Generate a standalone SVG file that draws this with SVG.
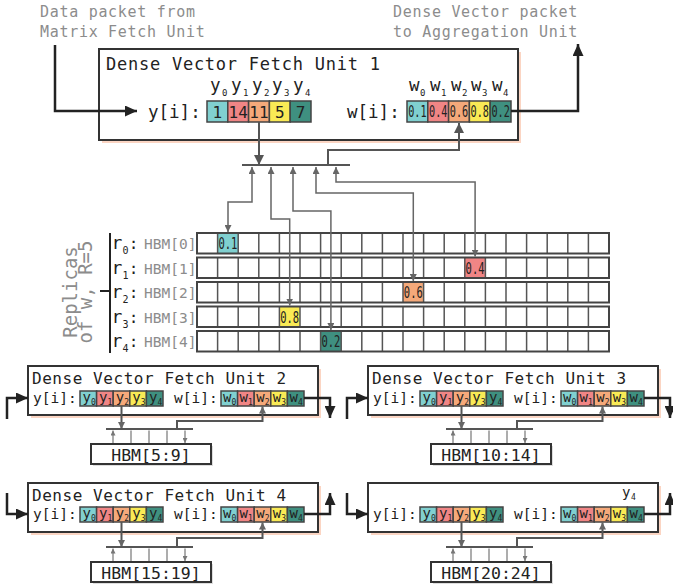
<svg xmlns="http://www.w3.org/2000/svg" width="673" height="587" viewBox="0 0 673 587">
<style>
text{font-family:"DejaVu Sans Mono","Liberation Mono",monospace;fill:#222}
.grey{fill:#8c8c8c}
.lbl{font-size:15px;letter-spacing:0.7px}
.t1{font-size:17px;letter-spacing:0.75px}
.t2{font-size:16px;letter-spacing:0.55px}
.row1{font-size:17.5px}
.row2{font-size:14.5px}
.box{fill:#fff;stroke:#333;stroke-width:2}
.shadow{fill:#fbd5c3}
.hshadow{fill:#ddd}
.cell{stroke:#444;stroke-width:1.5}
.c0{fill:#80d0d0}.c1{fill:#f08585}.c2{fill:#f5a97a}.c3{fill:#f9ea55}.c4{fill:#3f9080}
.bold{fill:none;stroke:#222;stroke-width:2.5}
.conn{fill:none;stroke:#555;stroke-width:2}
.thin{fill:none;stroke:#666;stroke-width:1.5}
.tiny{fill:none;stroke:#777;stroke-width:1.2}
.grid{fill:none;stroke:#555;stroke-width:1.5}
.gridrow{fill:none;stroke:#444;stroke-width:2}
.val{font-size:16px}
.wv{font-size:15px;text-anchor:middle}
.sub{font-size:9px}
.cy{font-size:14px}
.cs{font-size:8px}
.hbm{font-size:16.5px}
.rr{font-size:18px}
.rs{font-size:10px}
.rc{font-size:16px}
.rh{font-size:14.5px}
</style>
<defs>
<marker id="ab" markerUnits="userSpaceOnUse" markerWidth="12" markerHeight="11" refX="12" refY="5.5" orient="auto"><path d="M0,0 L12,5.5 L0,11 z" fill="#222"/></marker>
<marker id="am" markerUnits="userSpaceOnUse" markerWidth="10" markerHeight="10" refX="10" refY="5" orient="auto"><path d="M0,0 L10,5 L0,10 z" fill="#555"/></marker>
<marker id="as" markerUnits="userSpaceOnUse" markerWidth="7" markerHeight="7" refX="7" refY="3.5" orient="auto-start-reverse"><path d="M0,0 L7,3.5 L0,7 z" fill="#666"/></marker>
<marker id="at" markerUnits="userSpaceOnUse" markerWidth="5" markerHeight="5" refX="5" refY="2.5" orient="auto-start-reverse"><path d="M0,0 L5,2.5 L0,5 z" fill="#777"/></marker>
</defs>

<!-- top labels -->
<g id="label-in">
<text class="lbl grey" x="40" y="17">Data packet from</text>
<text class="lbl grey" x="40" y="37">Matrix Fetch Unit</text>
</g>
<g id="label-out">
<text class="lbl grey" x="393" y="17">Dense Vector packet</text>
<text class="lbl grey" x="393" y="37">to Aggregation Unit</text>
</g>

<!-- Unit 1 -->
<g id="unit1">
<rect class="shadow" x="102" y="52" width="419" height="91"/>
<rect class="box" x="99" y="49" width="419" height="91"/>
<text class="t1" x="106" y="70">Dense Vector Fetch Unit 1</text>
<text class="row1" x="210" y="91">y</text><text class="sub" x="222" y="96">0</text>
<text class="row1" x="231" y="91">y</text><text class="sub" x="243" y="96">1</text>
<text class="row1" x="252" y="91">y</text><text class="sub" x="264" y="96">2</text>
<text class="row1" x="272" y="91">y</text><text class="sub" x="284" y="96">3</text>
<text class="row1" x="293" y="91">y</text><text class="sub" x="305" y="96">4</text>
<text class="row1" x="148" y="118">y[i]:</text>
<rect class="cell c0" x="207" y="101" width="20.8" height="21"/>
<rect class="cell c1" x="227.8" y="101" width="20.8" height="21"/>
<rect class="cell c2" x="248.6" y="101" width="20.8" height="21"/>
<rect class="cell c3" x="269.4" y="101" width="20.8" height="21"/>
<rect class="cell c4" x="290.2" y="101" width="20.8" height="21"/>
<text class="val" x="217.4" y="118" text-anchor="middle">1</text>
<text class="val" x="238.2" y="118" text-anchor="middle">14</text>
<text class="val" x="259" y="118" text-anchor="middle">11</text>
<text class="val" x="279.8" y="118" text-anchor="middle">5</text>
<text class="val" x="300.6" y="118" text-anchor="middle">7</text>
<text class="row1" x="409" y="91" font-size="15">w</text><text class="sub" x="420" y="96">0</text>
<text class="row1" x="430" y="91" font-size="15">w</text><text class="sub" x="441" y="96">1</text>
<text class="row1" x="451" y="91" font-size="15">w</text><text class="sub" x="462" y="96">2</text>
<text class="row1" x="471" y="91" font-size="15">w</text><text class="sub" x="482" y="96">3</text>
<text class="row1" x="492" y="91" font-size="15">w</text><text class="sub" x="503" y="96">4</text>
<text class="row1" x="347" y="118">w[i]:</text>
<rect class="cell c0" x="407" y="101" width="20.8" height="21"/>
<rect class="cell c1" x="427.8" y="101" width="20.8" height="21"/>
<rect class="cell c2" x="448.6" y="101" width="20.8" height="21"/>
<rect class="cell c3" x="469.4" y="101" width="20.8" height="21"/>
<rect class="cell c4" x="490.2" y="101" width="20.8" height="21"/>
<text class="wv" transform="translate(417.4,117) scale(0.68,1)">0.1</text>
<text class="wv" transform="translate(438.2,117) scale(0.68,1)">0.4</text>
<text class="wv" transform="translate(459,117) scale(0.68,1)">0.6</text>
<text class="wv" transform="translate(479.8,117) scale(0.68,1)">0.8</text>
<text class="wv" transform="translate(500.6,117) scale(0.68,1)">0.2</text>
</g>

<!-- HBM grid -->
<g id="hbm-grid">
<rect x="197" y="233" width="412" height="20.5" fill="#fff"/>
<rect x="197" y="257.5" width="412" height="20.5" fill="#fff"/>
<rect x="197" y="282" width="412" height="20.5" fill="#fff"/>
<rect x="197" y="306.5" width="412" height="20.5" fill="#fff"/>
<rect x="197" y="331" width="412" height="20.5" fill="#fff"/>
<rect class="c0" x="217.6" y="233" width="20.6" height="20.5"/>
<rect class="c1" x="464.8" y="257.5" width="20.6" height="20.5"/>
<rect class="c2" x="403" y="282" width="20.6" height="20.5"/>
<rect class="c3" x="279.4" y="306.5" width="20.6" height="20.5"/>
<rect class="c4" x="320.6" y="331" width="20.6" height="20.5"/>
<path class="grid" stroke-dasharray="20.5 4" d="M217.6,233V351.5M238.2,233V351.5M258.8,233V351.5M279.4,233V351.5M300,233V351.5M320.6,233V351.5M341.2,233V351.5M361.8,233V351.5M382.4,233V351.5M403,233V351.5M423.6,233V351.5M444.2,233V351.5M464.8,233V351.5M485.4,233V351.5M506,233V351.5M526.6,233V351.5M547.2,233V351.5M567.8,233V351.5M588.4,233V351.5"/>
<rect class="gridrow" x="197" y="233" width="412" height="20.5"/>
<rect class="gridrow" x="197" y="257.5" width="412" height="20.5"/>
<rect class="gridrow" x="197" y="282" width="412" height="20.5"/>
<rect class="gridrow" x="197" y="306.5" width="412" height="20.5"/>
<rect class="gridrow" x="197" y="331" width="412" height="20.5"/>
<text class="wv" transform="translate(227.9,249) scale(0.7,1)">0.1</text>
<text class="wv" transform="translate(475.1,273.5) scale(0.7,1)">0.4</text>
<text class="wv" transform="translate(413.3,298) scale(0.7,1)">0.6</text>
<text class="wv" transform="translate(289.7,322.5) scale(0.7,1)">0.8</text>
<text class="wv" transform="translate(330.9,347) scale(0.7,1)">0.2</text>
</g>

<!-- replica labels -->
<g id="replica-labels">
<text class="rr" x="111.5" y="249">r</text><text class="rs" x="122.5" y="254">0</text><text class="rc" x="128.7" y="249">:</text><text class="grey rh" x="144" y="249">HBM[0]</text>
<text class="rr" x="111.5" y="273.5">r</text><text class="rs" x="122.5" y="278.5">1</text><text class="rc" x="128.7" y="273.5">:</text><text class="grey rh" x="144" y="273.5">HBM[1]</text>
<text class="rr" x="111.5" y="298">r</text><text class="rs" x="122.5" y="303">2</text><text class="rc" x="128.7" y="298">:</text><text class="grey rh" x="144" y="298">HBM[2]</text>
<text class="rr" x="111.5" y="322.5">r</text><text class="rs" x="122.5" y="327.5">3</text><text class="rc" x="128.7" y="322.5">:</text><text class="grey rh" x="144" y="322.5">HBM[3]</text>
<text class="rr" x="111.5" y="347">r</text><text class="rs" x="122.5" y="352">4</text><text class="rc" x="128.7" y="347">:</text><text class="grey rh" x="144" y="347">HBM[4]</text>
<path d="M110,233V353M100,291H110" fill="none" stroke="#222" stroke-width="2"/>
<text class="grey" font-size="19" text-anchor="middle" transform="translate(77,292) rotate(-90)">Replicas</text>
<text class="grey" font-size="19" text-anchor="middle" transform="translate(92,292) rotate(-90)">of w, R=5</text>
</g>

<!-- Unit 2 -->
<g id="unit2" transform="translate(28,366)">
<rect class="shadow" x="3" y="3" width="290" height="49"/>
<rect class="box" x="0" y="0" width="290" height="49"/>
<text class="t2" x="4" y="17.5">Dense Vector Fetch Unit 2</text>
<text class="row2" x="5" y="37">y[i]:</text>
<rect class="cell c0" x="52" y="25" width="16.6" height="15"/><rect class="cell c1" x="68.6" y="25" width="16.6" height="15"/><rect class="cell c2" x="85.2" y="25" width="16.6" height="15"/><rect class="cell c3" x="101.8" y="25" width="16.6" height="15"/><rect class="cell c4" x="118.4" y="25" width="16.6" height="15"/>
<text class="cy" x="54.5" y="36">y</text><text class="cs" x="63" y="39">0</text>
<text class="cy" x="71.1" y="36">y</text><text class="cs" x="79.6" y="39">1</text>
<text class="cy" x="87.7" y="36">y</text><text class="cs" x="96.2" y="39">2</text>
<text class="cy" x="104.3" y="36">y</text><text class="cs" x="112.8" y="39">3</text>
<text class="cy" x="120.9" y="36">y</text><text class="cs" x="129.4" y="39">4</text>
<text class="row2" x="146" y="37">w[i]:</text>
<rect class="cell c0" x="193" y="25" width="16.6" height="15"/><rect class="cell c1" x="209.6" y="25" width="16.6" height="15"/><rect class="cell c2" x="226.2" y="25" width="16.6" height="15"/><rect class="cell c3" x="242.8" y="25" width="16.6" height="15"/><rect class="cell c4" x="259.4" y="25" width="16.6" height="15"/>
<text class="cy" x="195" y="36" font-size="12">w</text><text class="cs" x="203.5" y="39">0</text>
<text class="cy" x="211.6" y="36" font-size="12">w</text><text class="cs" x="220.1" y="39">1</text>
<text class="cy" x="228.2" y="36" font-size="12">w</text><text class="cs" x="236.7" y="39">2</text>
<text class="cy" x="244.8" y="36" font-size="12">w</text><text class="cs" x="253.3" y="39">3</text>
<text class="cy" x="261.4" y="36" font-size="12">w</text><text class="cs" x="269.9" y="39">4</text>
<rect class="hshadow" x="65" y="80" width="120" height="20"/>
<rect class="box" x="63" y="78" width="120" height="20" stroke-width="1.5"/>
<text class="hbm" x="123" y="95" text-anchor="middle">HBM[5:9]</text>
</g>

<!-- Unit 3 -->
<g id="unit3" transform="translate(368,366)">
<rect class="shadow" x="3" y="3" width="290" height="49"/>
<rect class="box" x="0" y="0" width="290" height="49"/>
<text class="t2" x="4" y="17.5">Dense Vector Fetch Unit 3</text>
<text class="row2" x="5" y="37">y[i]:</text>
<rect class="cell c0" x="52" y="25" width="16.6" height="15"/><rect class="cell c1" x="68.6" y="25" width="16.6" height="15"/><rect class="cell c2" x="85.2" y="25" width="16.6" height="15"/><rect class="cell c3" x="101.8" y="25" width="16.6" height="15"/><rect class="cell c4" x="118.4" y="25" width="16.6" height="15"/>
<text class="cy" x="54.5" y="36">y</text><text class="cs" x="63" y="39">0</text>
<text class="cy" x="71.1" y="36">y</text><text class="cs" x="79.6" y="39">1</text>
<text class="cy" x="87.7" y="36">y</text><text class="cs" x="96.2" y="39">2</text>
<text class="cy" x="104.3" y="36">y</text><text class="cs" x="112.8" y="39">3</text>
<text class="cy" x="120.9" y="36">y</text><text class="cs" x="129.4" y="39">4</text>
<text class="row2" x="146" y="37">w[i]:</text>
<rect class="cell c0" x="193" y="25" width="16.6" height="15"/><rect class="cell c1" x="209.6" y="25" width="16.6" height="15"/><rect class="cell c2" x="226.2" y="25" width="16.6" height="15"/><rect class="cell c3" x="242.8" y="25" width="16.6" height="15"/><rect class="cell c4" x="259.4" y="25" width="16.6" height="15"/>
<text class="cy" x="195" y="36" font-size="12">w</text><text class="cs" x="203.5" y="39">0</text>
<text class="cy" x="211.6" y="36" font-size="12">w</text><text class="cs" x="220.1" y="39">1</text>
<text class="cy" x="228.2" y="36" font-size="12">w</text><text class="cs" x="236.7" y="39">2</text>
<text class="cy" x="244.8" y="36" font-size="12">w</text><text class="cs" x="253.3" y="39">3</text>
<text class="cy" x="261.4" y="36" font-size="12">w</text><text class="cs" x="269.9" y="39">4</text>
<rect class="hshadow" x="65" y="80" width="120" height="20"/>
<rect class="box" x="63" y="78" width="120" height="20" stroke-width="1.5"/>
<text class="hbm" x="123" y="95" text-anchor="middle">HBM[10:14]</text>
</g>

<!-- Unit 4 -->
<g id="unit4" transform="translate(28,483)">
<rect class="shadow" x="3" y="3" width="290" height="49"/>
<rect class="box" x="0" y="0" width="290" height="49"/>
<text class="t2" x="4" y="18">Dense Vector Fetch Unit 4</text>
<text class="row2" x="5" y="36">y[i]:</text>
<rect class="cell c0" x="52" y="24" width="16.6" height="15"/><rect class="cell c1" x="68.6" y="24" width="16.6" height="15"/><rect class="cell c2" x="85.2" y="24" width="16.6" height="15"/><rect class="cell c3" x="101.8" y="24" width="16.6" height="15"/><rect class="cell c4" x="118.4" y="24" width="16.6" height="15"/>
<text class="cy" x="54.5" y="35">y</text><text class="cs" x="63" y="38">0</text>
<text class="cy" x="71.1" y="35">y</text><text class="cs" x="79.6" y="38">1</text>
<text class="cy" x="87.7" y="35">y</text><text class="cs" x="96.2" y="38">2</text>
<text class="cy" x="104.3" y="35">y</text><text class="cs" x="112.8" y="38">3</text>
<text class="cy" x="120.9" y="35">y</text><text class="cs" x="129.4" y="38">4</text>
<text class="row2" x="146" y="36">w[i]:</text>
<rect class="cell c0" x="193" y="24" width="16.6" height="15"/><rect class="cell c1" x="209.6" y="24" width="16.6" height="15"/><rect class="cell c2" x="226.2" y="24" width="16.6" height="15"/><rect class="cell c3" x="242.8" y="24" width="16.6" height="15"/><rect class="cell c4" x="259.4" y="24" width="16.6" height="15"/>
<text class="cy" x="195" y="35" font-size="12">w</text><text class="cs" x="203.5" y="38">0</text>
<text class="cy" x="211.6" y="35" font-size="12">w</text><text class="cs" x="220.1" y="38">1</text>
<text class="cy" x="228.2" y="35" font-size="12">w</text><text class="cs" x="236.7" y="38">2</text>
<text class="cy" x="244.8" y="35" font-size="12">w</text><text class="cs" x="253.3" y="38">3</text>
<text class="cy" x="261.4" y="35" font-size="12">w</text><text class="cs" x="269.9" y="38">4</text>
<rect class="hshadow" x="65" y="81" width="120" height="20"/>
<rect class="box" x="63" y="79" width="120" height="20" stroke-width="1.5"/>
<text class="hbm" x="123" y="96" text-anchor="middle">HBM[15:19]</text>
</g>

<!-- Unit 5 -->
<g id="unit5" transform="translate(368,483)">
<rect class="shadow" x="3" y="3" width="290" height="49"/>
<rect class="box" x="0" y="0" width="290" height="49"/>
<text class="cy" x="254" y="14">y</text><text class="cs" x="263" y="17">4</text>
<text class="row2" x="5" y="36">y[i]:</text>
<rect class="cell c0" x="52" y="24" width="16.6" height="15"/><rect class="cell c1" x="68.6" y="24" width="16.6" height="15"/><rect class="cell c2" x="85.2" y="24" width="16.6" height="15"/><rect class="cell c3" x="101.8" y="24" width="16.6" height="15"/><rect class="cell c4" x="118.4" y="24" width="16.6" height="15"/>
<text class="cy" x="54.5" y="35">y</text><text class="cs" x="63" y="38">0</text>
<text class="cy" x="71.1" y="35">y</text><text class="cs" x="79.6" y="38">1</text>
<text class="cy" x="87.7" y="35">y</text><text class="cs" x="96.2" y="38">2</text>
<text class="cy" x="104.3" y="35">y</text><text class="cs" x="112.8" y="38">3</text>
<text class="cy" x="120.9" y="35">y</text><text class="cs" x="129.4" y="38">4</text>
<text class="row2" x="146" y="36">w[i]:</text>
<rect class="cell c0" x="193" y="24" width="16.6" height="15"/><rect class="cell c1" x="209.6" y="24" width="16.6" height="15"/><rect class="cell c2" x="226.2" y="24" width="16.6" height="15"/><rect class="cell c3" x="242.8" y="24" width="16.6" height="15"/><rect class="cell c4" x="259.4" y="24" width="16.6" height="15"/>
<text class="cy" x="195" y="35" font-size="12">w</text><text class="cs" x="203.5" y="38">0</text>
<text class="cy" x="211.6" y="35" font-size="12">w</text><text class="cs" x="220.1" y="38">1</text>
<text class="cy" x="228.2" y="35" font-size="12">w</text><text class="cs" x="236.7" y="38">2</text>
<text class="cy" x="244.8" y="35" font-size="12">w</text><text class="cs" x="253.3" y="38">3</text>
<text class="cy" x="261.4" y="35" font-size="12">w</text><text class="cs" x="269.9" y="38">4</text>
<rect class="hshadow" x="65" y="81" width="120" height="20"/>
<rect class="box" x="63" y="79" width="120" height="20" stroke-width="1.5"/>
<text class="hbm" x="123" y="96" text-anchor="middle">HBM[20:24]</text>
</g>

<!-- connectors -->
<g id="connectors">
<path class="bold" d="M55,45V111H137" marker-end="url(#ab)"/>
<path class="bold" d="M511,111H578V44" marker-end="url(#ab)"/>
<path class="conn" d="M259,122V165" marker-end="url(#am)"/>
<path class="conn" d="M242,165H350"/>
<path class="conn" d="M328,165V150H459V123" marker-end="url(#am)"/>
<path class="thin" d="M252,167V202H228V232" marker-start="url(#as)" marker-end="url(#as)"/>
<path class="thin" d="M271,167V219H289.7V305.5" marker-start="url(#as)" marker-end="url(#as)"/>
<path class="thin" d="M293,167V211H330.9V330" marker-start="url(#as)" marker-end="url(#as)"/>
<path class="thin" d="M316,167V193H413.3V281" marker-start="url(#as)" marker-end="url(#as)"/>
<path class="thin" d="M336,167V182H475.1V256.5" marker-start="url(#as)" marker-end="url(#as)"/>

<g transform="translate(28,366)">
<path class="bold" stroke-width="2" d="M-21,53V32H0" marker-end="url(#ab)"/>
<path class="bold" stroke-width="2" d="M276,32H302V52" marker-end="url(#ab)"/>
<path class="conn" stroke-width="1.5" d="M93.5,40V63" marker-end="url(#as)"/>
<path class="conn" d="M78,63H165"/>
<path class="conn" stroke-width="1.5" d="M149,63V55H234.5V40.5" marker-end="url(#as)"/>
<path class="tiny" d="M85,64.5V77M103,64.5V77M121,64.5V77M139,64.5V77M157,64.5V77" marker-start="url(#at)" marker-end="url(#at)"/>
</g>
<g transform="translate(368,366)">
<path class="bold" stroke-width="2" d="M-21,53V32H0" marker-end="url(#ab)"/>
<path class="bold" stroke-width="2" d="M276,32H302V52" marker-end="url(#ab)"/>
<path class="conn" stroke-width="1.5" d="M93.5,40V63" marker-end="url(#as)"/>
<path class="conn" d="M78,63H165"/>
<path class="conn" stroke-width="1.5" d="M149,63V55H234.5V40.5" marker-end="url(#as)"/>
<path class="tiny" d="M85,64.5V77M103,64.5V77M121,64.5V77M139,64.5V77M157,64.5V77" marker-start="url(#at)" marker-end="url(#at)"/>
</g>
<g transform="translate(28,483)">
<path class="bold" stroke-width="2" d="M-21,10V31H0" marker-end="url(#ab)"/>
<path class="bold" stroke-width="2" d="M276,31H302V10" marker-end="url(#ab)"/>
<path class="conn" stroke-width="1.5" d="M93.5,39V64" marker-end="url(#as)"/>
<path class="conn" d="M78,64H165"/>
<path class="conn" stroke-width="1.5" d="M149,64V55H234.5V39.5" marker-end="url(#as)"/>
<path class="tiny" d="M85,65.5V78M103,65.5V78M121,65.5V78M139,65.5V78M157,65.5V78" marker-start="url(#at)" marker-end="url(#at)"/>
</g>
<g transform="translate(368,483)">
<path class="bold" stroke-width="2" d="M-21,10V31H0" marker-end="url(#ab)"/>
<path class="bold" stroke-width="2" d="M276,31H302V10" marker-end="url(#ab)"/>
<path class="conn" stroke-width="1.5" d="M93.5,39V64" marker-end="url(#as)"/>
<path class="conn" d="M78,64H165"/>
<path class="conn" stroke-width="1.5" d="M149,64V55H234.5V39.5" marker-end="url(#as)"/>
<path class="tiny" d="M85,65.5V78M103,65.5V78M121,65.5V78M139,65.5V78M157,65.5V78" marker-start="url(#at)" marker-end="url(#at)"/>
</g>
</g>
</svg>
